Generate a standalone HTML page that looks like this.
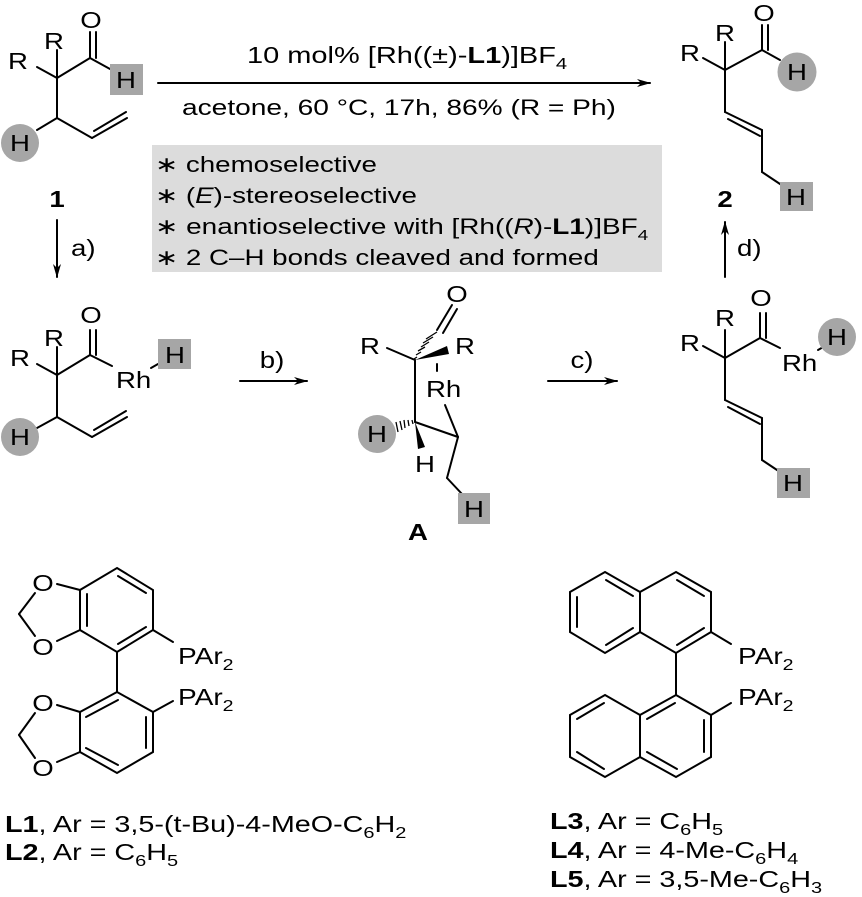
<!DOCTYPE html>
<html><head><meta charset="utf-8"><style>
html,body{margin:0;padding:0;background:#fff}
svg{display:block}
text{font-family:"Liberation Sans",Arial,sans-serif;fill:#000}
</style></head><body>
<svg width="862" height="897" viewBox="0 0 862 897" xmlns="http://www.w3.org/2000/svg">
<defs>
<marker id="ah" markerWidth="14" markerHeight="10" refX="13" refY="5" orient="auto" markerUnits="userSpaceOnUse">
<path d="M0,1 L14,5 L0,9 L4,5 Z" fill="#000"/>
</marker>
</defs>
<g stroke="#000" stroke-width="2" fill="none" stroke-linecap="round">

<!-- Compound 1 -->
<line x1="37" y1="67" x2="57" y2="78"/>
<line x1="57" y1="78" x2="57" y2="50"/>
<line x1="57" y1="78" x2="90" y2="58"/>
<line x1="90" y1="58" x2="90" y2="32"/>
<line x1="96" y1="58" x2="96" y2="32"/>
<line x1="90" y1="58" x2="110" y2="69"/>
<line x1="57" y1="78" x2="57" y2="118"/>
<line x1="57" y1="118" x2="37" y2="130"/>
<line x1="57" y1="118" x2="92" y2="138"/>
<line x1="92" y1="138" x2="127" y2="118"/>
<line x1="94" y1="131" x2="126" y2="112"/>

<!-- Compound 2 -->
<line x1="703" y1="58" x2="725" y2="70"/>
<line x1="725" y1="70" x2="725" y2="42"/>
<line x1="725" y1="70" x2="762" y2="50"/>
<line x1="762" y1="50" x2="762" y2="25"/>
<line x1="768" y1="50" x2="768" y2="25"/>
<line x1="762" y1="50" x2="780" y2="60"/>
<line x1="725" y1="70" x2="725" y2="112"/>
<line x1="725" y1="112" x2="762" y2="130"/>
<line x1="728" y1="119" x2="760" y2="136"/>
<line x1="762" y1="130" x2="762" y2="172"/>
<line x1="762" y1="172" x2="783" y2="186"/>

<!-- Middle left -->
<line x1="37" y1="364" x2="57" y2="375"/>
<line x1="57" y1="375" x2="57" y2="347"/>
<line x1="57" y1="375" x2="90" y2="355"/>
<line x1="90" y1="355" x2="90" y2="330"/>
<line x1="96" y1="355" x2="96" y2="330"/>
<line x1="90" y1="355" x2="112" y2="366"/>
<line x1="151" y1="368" x2="158" y2="364"/>
<line x1="57" y1="375" x2="57" y2="417"/>
<line x1="57" y1="417" x2="37" y2="428"/>
<line x1="57" y1="417" x2="92" y2="437"/>
<line x1="92" y1="437" x2="127" y2="417"/>
<line x1="94" y1="430" x2="126" y2="411"/>

<!-- Intermediate A -->
<line x1="387" y1="348" x2="415" y2="360"/>
<line x1="437" y1="330" x2="452" y2="305"/>
<line x1="443" y1="333" x2="457" y2="309"/>
<line x1="437" y1="364" x2="437" y2="371"/>
<line x1="415" y1="360" x2="415" y2="422"/>
<line x1="415" y1="422" x2="458" y2="437"/>
<line x1="445" y1="405" x2="458" y2="437"/>
<line x1="458" y1="437" x2="447" y2="478"/>
<line x1="447" y1="478" x2="462" y2="494"/>

<!-- Middle right -->
<line x1="703" y1="346" x2="725" y2="358"/>
<line x1="725" y1="358" x2="725" y2="330"/>
<line x1="725" y1="358" x2="760" y2="338"/>
<line x1="760" y1="338" x2="760" y2="313"/>
<line x1="766" y1="338" x2="766" y2="313"/>
<line x1="760" y1="338" x2="780" y2="348"/>
<line x1="818" y1="350" x2="825" y2="346"/>
<line x1="725" y1="358" x2="725" y2="400"/>
<line x1="725" y1="400" x2="762" y2="418"/>
<line x1="728" y1="407" x2="760" y2="424"/>
<line x1="762" y1="418" x2="762" y2="460"/>
<line x1="762" y1="460" x2="780" y2="472"/>

<!-- L1 -->
<polygon points="117,568 153,590 153,630 117,652 80,630 80,590"/>
<line x1="118" y1="576" x2="146" y2="593"/>
<line x1="87" y1="594" x2="87" y2="626"/>
<line x1="118" y1="644" x2="146" y2="627"/>
<line x1="80" y1="590" x2="57" y2="584"/>
<line x1="80" y1="630" x2="57" y2="641"/>
<line x1="35" y1="593" x2="19" y2="614"/>
<line x1="19" y1="614" x2="35" y2="636"/>
<line x1="153" y1="630" x2="173" y2="642"/>
<line x1="117" y1="652" x2="117" y2="692"/>
<polygon points="117,692 153,712 153,752 117,773 80,752 80,712"/>
<line x1="118" y1="700" x2="86" y2="717"/>
<line x1="146" y1="717" x2="146" y2="748"/>
<line x1="118" y1="765" x2="86" y2="748"/>
<line x1="80" y1="712" x2="57" y2="705"/>
<line x1="80" y1="752" x2="57" y2="762"/>
<line x1="35" y1="713" x2="19" y2="735"/>
<line x1="19" y1="735" x2="35" y2="758"/>
<line x1="153" y1="712" x2="173" y2="701"/>

<!-- L3 -->
<polygon points="676,572 711,592 711,632 676,653 640,632 640,592"/>
<polygon points="605,572 640,592 640,632 605,653 570,632 570,592"/>
<line x1="677" y1="580" x2="704" y2="596"/>
<line x1="677" y1="645" x2="704" y2="628"/>
<line x1="606" y1="580" x2="633" y2="596"/>
<line x1="577" y1="597" x2="577" y2="627"/>
<line x1="606" y1="645" x2="633" y2="628"/>
<line x1="711" y1="632" x2="731" y2="644"/>
<line x1="676" y1="653" x2="676" y2="695"/>
<polygon points="676,695 711,715 711,757 676,777 640,757 640,715"/>
<polygon points="605,695 640,715 640,757 605,777 570,757 570,715"/>
<line x1="675" y1="703" x2="647" y2="719"/>
<line x1="704" y1="720" x2="704" y2="752"/>
<line x1="677" y1="769" x2="647" y2="752"/>
<line x1="604" y1="703" x2="577" y2="719"/>
<line x1="604" y1="769" x2="577" y2="752"/>
<line x1="711" y1="715" x2="731" y2="703"/>

<!-- arrows -->
<line x1="158" y1="83" x2="650" y2="83" marker-end="url(#ah)"/>
<line x1="57" y1="220" x2="57" y2="277" marker-end="url(#ah)"/>
<line x1="725" y1="277" x2="725" y2="222" marker-end="url(#ah)"/>
<line x1="240" y1="381" x2="307" y2="381" marker-end="url(#ah)"/>
<line x1="548" y1="381" x2="617" y2="381" marker-end="url(#ah)"/>
</g>

<!-- wedges in A -->
<polygon points="415,360 447,346 449,354" fill="#000"/>
<polygon points="415,422 418,449 425,447" fill="#000"/>
<g stroke="#000" stroke-width="1.3">
<line x1="417" y1="357" x2="414" y2="359"/>
<line x1="421" y1="352" x2="416" y2="355"/>
<line x1="425" y1="347" x2="418" y2="351"/>
<line x1="429" y1="342" x2="421" y2="347"/>
<line x1="433" y1="337" x2="423" y2="343"/>
<line x1="437" y1="332" x2="426" y2="339"/>
<line x1="412" y1="420" x2="413" y2="424"/>
<line x1="408" y1="420" x2="409" y2="426"/>
<line x1="404" y1="420" x2="405" y2="428"/>
<line x1="400" y1="421" x2="402" y2="430"/>
<line x1="396" y1="422" x2="398" y2="432"/>
</g>

<!-- highlights -->
<rect x="110" y="64" width="33" height="31" fill="#a6a6a6"/>
<circle cx="20" cy="143" r="19" fill="#a6a6a6"/>
<circle cx="797" cy="72" r="19.5" fill="#a6a6a6"/>
<rect x="780" y="182" width="33" height="29" fill="#a6a6a6"/>
<rect x="158" y="339" width="33" height="30" fill="#a6a6a6"/>
<circle cx="20" cy="437" r="19" fill="#a6a6a6"/>
<circle cx="377" cy="434" r="19" fill="#a6a6a6"/>
<rect x="458" y="493" width="32" height="31" fill="#a6a6a6"/>
<circle cx="837" cy="337" r="19" fill="#a6a6a6"/>
<rect x="777" y="468" width="33" height="30" fill="#a6a6a6"/>
<rect x="152" y="145" width="510" height="127" fill="#dcdcdc"/>

<g font-size="23">
<!-- compound 1 -->
<text transform="translate(91,28) scale(1.2,1)" text-anchor="middle">O</text>
<text transform="translate(54,49) scale(1.2,1)" text-anchor="middle">R</text>
<text transform="translate(18,69) scale(1.2,1)" text-anchor="middle">R</text>
<text transform="translate(126,88) scale(1.2,1)" text-anchor="middle">H</text>
<text transform="translate(20,151) scale(1.2,1)" text-anchor="middle">H</text>
<text transform="translate(57,207) scale(1.2,1)" text-anchor="middle" font-weight="bold">1</text>
<text transform="translate(71,256) scale(1.2,1)">a)</text>
<!-- compound 2 -->
<text transform="translate(764,21) scale(1.2,1)" text-anchor="middle">O</text>
<text transform="translate(725,41) scale(1.2,1)" text-anchor="middle">R</text>
<text transform="translate(690,61) scale(1.2,1)" text-anchor="middle">R</text>
<text transform="translate(797,80) scale(1.2,1)" text-anchor="middle">H</text>
<text transform="translate(796,205) scale(1.2,1)" text-anchor="middle">H</text>
<text transform="translate(725,207) scale(1.2,1)" text-anchor="middle" font-weight="bold">2</text>
<text transform="translate(737,256) scale(1.2,1)">d)</text>
<!-- conditions -->
<text transform="translate(247,63) scale(1.26,1)">10 mol% [Rh((±)-<tspan font-weight="bold">L1</tspan>)]BF<tspan font-size="16" dy="6">4</tspan></text>
<text transform="translate(182,115) scale(1.25,1)" font-size="22.5">acetone, 60 °C, 17h, 86% (R = Ph)</text>
<g font-size="22">
<text transform="translate(155,172) scale(1.26,1)">∗ chemoselective</text>
<text transform="translate(155,203) scale(1.26,1)">∗ (<tspan font-style="italic">E</tspan>)-stereoselective</text>
<text transform="translate(155,234) scale(1.27,1)">∗ enantioselective with [Rh((<tspan font-style="italic">R</tspan>)-<tspan font-weight="bold">L1</tspan>)]BF<tspan font-size="15" dy="6">4</tspan></text>
<text transform="translate(155,265) scale(1.26,1)">∗ 2 C–H bonds cleaved and formed</text>
</g>
<!-- middle left -->
<text transform="translate(91,323) scale(1.2,1)" text-anchor="middle">O</text>
<text transform="translate(54,346) scale(1.2,1)" text-anchor="middle">R</text>
<text transform="translate(20,366) scale(1.2,1)" text-anchor="middle">R</text>
<text transform="translate(116,388) scale(1.2,1)">Rh</text>
<text transform="translate(175,363) scale(1.2,1)" text-anchor="middle">H</text>
<text transform="translate(20,445) scale(1.2,1)" text-anchor="middle">H</text>
<text transform="translate(272,368) scale(1.2,1)" text-anchor="middle">b)</text>
<!-- A -->
<text transform="translate(457,302) scale(1.2,1)" text-anchor="middle">O</text>
<text transform="translate(370,354) scale(1.2,1)" text-anchor="middle">R</text>
<text transform="translate(465,354) scale(1.2,1)" text-anchor="middle">R</text>
<text transform="translate(426,397) scale(1.2,1)">Rh</text>
<text transform="translate(377,442) scale(1.2,1)" text-anchor="middle">H</text>
<text transform="translate(425,472) scale(1.2,1)" text-anchor="middle">H</text>
<text transform="translate(474,517) scale(1.2,1)" text-anchor="middle">H</text>
<text transform="translate(418,540) scale(1.2,1)" text-anchor="middle" font-weight="bold">A</text>
<text transform="translate(582,368) scale(1.2,1)" text-anchor="middle">c)</text>
<!-- middle right -->
<text transform="translate(761,306) scale(1.2,1)" text-anchor="middle">O</text>
<text transform="translate(725,326) scale(1.2,1)" text-anchor="middle">R</text>
<text transform="translate(690,351) scale(1.2,1)" text-anchor="middle">R</text>
<text transform="translate(782,371) scale(1.2,1)">Rh</text>
<text transform="translate(837,345) scale(1.2,1)" text-anchor="middle">H</text>
<text transform="translate(793,491) scale(1.2,1)" text-anchor="middle">H</text>
<!-- L1 -->
<text transform="translate(43,591) scale(1.2,1)" text-anchor="middle">O</text>
<text transform="translate(43,655) scale(1.2,1)" text-anchor="middle">O</text>
<text transform="translate(43,711) scale(1.2,1)" text-anchor="middle">O</text>
<text transform="translate(43,776) scale(1.2,1)" text-anchor="middle">O</text>
<text transform="translate(178,664) scale(1.22,1)">PAr<tspan font-size="16" dy="6">2</tspan></text>
<text transform="translate(178,705) scale(1.22,1)">PAr<tspan font-size="16" dy="6">2</tspan></text>
<text transform="translate(5,832) scale(1.25,1)"><tspan font-weight="bold">L1</tspan>, Ar = 3,5-(t-Bu)-4-MeO-C<tspan font-size="16" dy="6">6</tspan><tspan dy="-6">H</tspan><tspan font-size="16" dy="6">2</tspan></text>
<text transform="translate(5,860) scale(1.25,1)"><tspan font-weight="bold">L2</tspan>, Ar = C<tspan font-size="16" dy="6">6</tspan><tspan dy="-6">H</tspan><tspan font-size="16" dy="6">5</tspan></text>
<!-- L3 -->
<text transform="translate(738,664) scale(1.22,1)">PAr<tspan font-size="16" dy="6">2</tspan></text>
<text transform="translate(738,705) scale(1.22,1)">PAr<tspan font-size="16" dy="6">2</tspan></text>
<text transform="translate(550,829) scale(1.25,1)"><tspan font-weight="bold">L3</tspan>, Ar = C<tspan font-size="16" dy="6">6</tspan><tspan dy="-6">H</tspan><tspan font-size="16" dy="6">5</tspan></text>
<text transform="translate(550,858) scale(1.25,1)"><tspan font-weight="bold">L4</tspan>, Ar = 4-Me-C<tspan font-size="16" dy="6">6</tspan><tspan dy="-6">H</tspan><tspan font-size="16" dy="6">4</tspan></text>
<text transform="translate(550,887) scale(1.25,1)"><tspan font-weight="bold">L5</tspan>, Ar = 3,5-Me-C<tspan font-size="16" dy="6">6</tspan><tspan dy="-6">H</tspan><tspan font-size="16" dy="6">3</tspan></text>
</g>
</svg>
</body></html>
